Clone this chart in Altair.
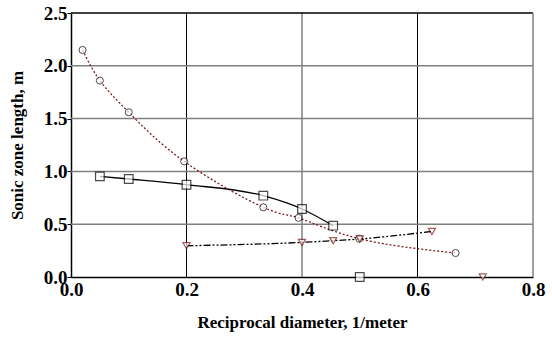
import altair as alt
import pandas as pd

# Data
circ_x = [0.02, 0.05, 0.10, 0.196, 0.333, 0.394, 0.499, 0.666]
circ_y = [2.15, 1.86, 1.56, 1.095, 0.66, 0.56, 0.363, 0.227]

sq_x = [0.05, 0.10, 0.20, 0.333, 0.40, 0.454]
sq_y = [0.953, 0.928, 0.874, 0.77, 0.644, 0.486]
sq_extra_x = [0.50]
sq_extra_y = [0.0]

tri_x = [0.20, 0.40, 0.454, 0.50, 0.625]
tri_y = [0.296, 0.328, 0.344, 0.36, 0.432]
tri_extra_x = [0.713]
tri_extra_y = [0.0]

x_ticks = [0.0, 0.2, 0.4, 0.6, 0.8]
y_ticks = [0.0, 0.5, 1.0, 1.5, 2.0, 2.5]
v_grid_black = [0.2, 0.6]
v_grid_grey = [0.4]
h_grid_grey = [0.5, 1.0, 1.5, 2.0]

FONT = "Liberation Serif"
W, H = 462, 264

circ = pd.DataFrame({"x": circ_x, "y": circ_y})
sq = pd.DataFrame({"x": sq_x, "y": sq_y})
sq_all = pd.DataFrame({"x": sq_x + sq_extra_x, "y": sq_y + sq_extra_y})
tri = pd.DataFrame({"x": tri_x, "y": tri_y})
tri_all = pd.DataFrame({"x": tri_x + tri_extra_x, "y": tri_y + tri_extra_y})

xs = alt.Scale(domain=[0, 0.8], nice=False, zero=False)
ys = alt.Scale(domain=[0, 2.5], nice=False, zero=False)

common = dict(grid=False, domain=True, domainColor="black", domainWidth=1.5, tickColor="black",
              labelFont=FONT, labelFontSize=19, labelFontWeight="bold", labelColor="black",
              labelFlush=False, titleFont=FONT, titleFontSize=17, titleFontWeight="bold",
              titleColor="black")
xax = alt.Axis(values=x_ticks, format=".1f", ticks=False, labelPadding=3,
               title="Reciprocal diameter, 1/meter", titlePadding=15, **common)
yax = alt.Axis(values=y_ticks, format=".1f", ticks=True, tickSize=4, labelPadding=0,
               title="Sonic zone length, m", titlePadding=17, **common)

X = alt.X("x:Q", scale=xs, axis=xax)
Y = alt.Y("y:Q", scale=ys, axis=yax)

vgb = alt.Chart(pd.DataFrame({"x": v_grid_black})).mark_rule(color="black", strokeWidth=1).encode(
    x=X, y=alt.value(0), y2=alt.value(H))
vgg = alt.Chart(pd.DataFrame({"x": v_grid_grey})).mark_rule(color="#808080", strokeWidth=1.5).encode(
    x=X, y=alt.value(0), y2=alt.value(H))
hgg = alt.Chart(pd.DataFrame({"y": h_grid_grey})).mark_rule(color="#808080", strokeWidth=1.5).encode(
    y=Y, x=alt.value(0), x2=alt.value(W))
top = alt.Chart(pd.DataFrame({"y": [2.5]})).mark_rule(color="black", strokeWidth=1.5).encode(
    y=Y, x=alt.value(0), x2=alt.value(W))
right = alt.Chart(pd.DataFrame({"x": [0.8]})).mark_rule(color="#808080", strokeWidth=1.5).encode(
    x=X, y=alt.value(0), y2=alt.value(H))

circ_line = alt.Chart(circ).mark_line(color="#7a1a1a", strokeWidth=1.3, strokeDash=[2, 2],
                                      interpolate="natural").encode(x=X, y=Y)
sq_line = alt.Chart(sq).mark_line(color="black", strokeWidth=1.3, interpolate="monotone").encode(x=X, y=Y)
tri_line = alt.Chart(tri).mark_line(color="black", strokeWidth=1.3, strokeDash=[7, 2, 2, 2, 2, 2],
                                    interpolate="monotone").encode(x=X, y=Y)

circ_pts = alt.Chart(circ).mark_point(shape="circle", size=50, fill="white", filled=True,
                                      stroke="black", strokeWidth=1).encode(x=X, y=Y)
sq_pts = alt.Chart(sq_all).mark_point(shape="square", size=75, fill="white", filled=True,
                                      stroke="black", strokeWidth=1.2).encode(x=X, y=Y)
tri_pts = alt.Chart(tri_all).mark_point(shape="triangle-down", size=50, fill="white", filled=True,
                                        stroke="#7a1a1a", strokeWidth=1.2).encode(x=X, y=Y)

chart = alt.layer(vgb, vgg, hgg, top, right, circ_line, sq_line, tri_line,
                  circ_pts, sq_pts, tri_pts).properties(
    width=W, height=H, autosize=alt.AutoSizeParams(type="none"),
    padding={"left": 71, "top": 13, "right": 19, "bottom": 60}, background="white"
).configure_view(stroke=None).configure_axis(
    labelFont=FONT, labelFontSize=19, labelFontWeight="bold", labelColor="black")

chart.save("out.html", embed_options={"renderer": "svg", "actions": False})
